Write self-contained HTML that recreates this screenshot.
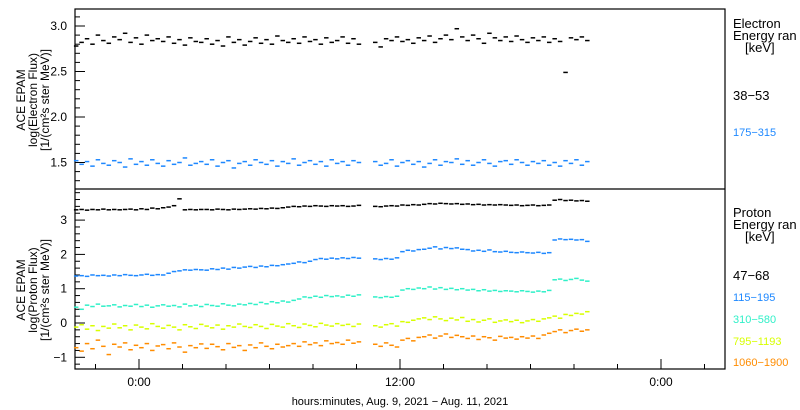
<!DOCTYPE html>
<html><head><meta charset="utf-8"><style>
body{margin:0;background:#fff;}
svg{display:block;font-family:"Liberation Sans",sans-serif;}
</style></head><body>
<svg id="chart" width="800" height="410" viewBox="0 0 800 410" xmlns="http://www.w3.org/2000/svg">
<g id="axes"></g><g id="marks"></g>
</svg>
<script>
const tStart = -2.9;
const tStep = 0.25;
const electronLow = [2.78,2.82,2.86,2.80,2.90,2.84,2.81,2.88, 2.85,2.92,2.82,2.87,2.80,2.90,2.84,2.86, 2.83,2.88,2.81,2.85,2.79,2.87,2.83,2.82, 2.86,2.80,2.84,2.78,2.88,2.82,2.85,2.79, 2.83,2.87,2.81,2.85,2.80,2.89,2.84,2.82, 2.86,2.81,2.88,2.83,2.85,2.80,2.87,2.82, 2.84,2.88,2.81,2.86,2.80,null,null, 2.82,2.77,2.86,2.84,2.88,2.83,2.85,2.81,2.87, 2.84,2.89,2.82,2.86,2.90,2.85,2.97,2.88, 2.84,2.90,2.86,2.81,2.92,2.87,2.84,2.88, 2.83,2.89,2.85,2.82,2.87,2.84,2.88,2.82, 2.86,2.83,2.49,2.87,2.85,2.88,2.84];
const electronHigh = [1.52,1.48,1.51,1.46,1.53,1.49,1.47,1.52, 1.50,1.45,1.54,1.48,1.51,1.47,1.53,1.49, 1.46,1.52,1.48,1.50,1.55,1.47,1.49,1.51, 1.48,1.53,1.46,1.50,1.52,1.44,1.49,1.51, 1.47,1.53,1.50,1.48,1.52,1.46,1.51,1.49, 1.54,1.47,1.50,1.52,1.48,1.51,1.46,1.53, 1.49,1.51,1.47,1.52,1.50,null,null, 1.51,1.47,1.49,1.53,1.46,1.50,1.52,1.48,1.51, 1.45,1.49,1.53,1.47,1.51,1.50,1.54,1.48, 1.52,1.47,1.50,1.53,1.49,1.46,1.51,1.52, 1.48,1.53,1.50,1.47,1.51,1.49,1.52,1.47, 1.50,1.46,1.52,1.49,1.53,1.47,1.51];
const proton1 = [3.30,3.31,3.29,3.31,3.30,3.32,3.30,3.31, 3.30,3.31,3.32,3.30,3.33,3.31,3.35,3.33, 3.36,3.38,3.42,3.62,3.30,3.31,3.30,3.31, 3.31,3.30,3.32,3.31,3.30,3.32,3.31,3.32, 3.33,3.32,3.34,3.33,3.35,3.34,3.36,3.38, 3.40,3.39,3.41,3.40,3.42,3.41,3.40,3.42, 3.41,3.42,3.40,3.41,3.43,null,null, 3.40,3.39,3.41,3.42,3.41,3.44,3.43,3.45,3.44, 3.46,3.48,3.47,3.49,3.48,3.47,3.48,3.46, 3.47,3.45,3.46,3.44,3.45,3.44,3.45,3.44, 3.43,3.44,3.42,3.43,3.44,3.42,3.43,3.44, 3.58,3.60,3.57,3.58,3.56,3.57,3.55];
const proton2 = [1.37,1.38,1.36,1.40,1.38,1.39,1.37,1.40, 1.38,1.41,1.39,1.38,1.40,1.42,1.39,1.41, 1.40,1.45,1.50,1.52,1.55,1.54,1.56,1.55, 1.54,1.58,1.56,1.60,1.57,1.62,1.60,1.63, 1.65,1.62,1.66,1.64,1.68,1.67,1.70,1.72, 1.74,1.78,1.76,1.80,1.85,1.88,1.86,1.89, 1.87,1.90,1.88,1.91,1.89,null,null, 1.87,1.85,1.88,1.86,1.90,2.08,2.12,2.10,2.14, 2.15,2.18,2.22,2.16,2.20,2.17,2.19,2.15, 2.14,2.10,2.12,2.09,2.13,2.08,2.07,2.09, 2.06,2.05,2.07,2.05,2.04,2.06,2.03,2.05, 2.42,2.45,2.43,2.44,2.42,2.43,2.38];
const proton3 = [0.46,0.40,0.52,0.48,0.55,0.49,0.50,0.53, 0.47,0.51,0.49,0.54,0.48,0.52,0.46,0.50, 0.53,0.49,0.51,0.47,0.55,0.50,0.52,0.48, 0.54,0.51,0.49,0.56,0.52,0.50,0.55,0.53, 0.57,0.54,0.60,0.56,0.62,0.59,0.64,0.61, 0.66,0.70,0.76,0.74,0.78,0.75,0.80,0.77, 0.79,0.76,0.81,0.78,0.82,null,null, 0.76,0.74,0.77,0.75,0.78,0.96,1.00,0.98,1.02, 1.00,1.05,0.99,1.03,0.98,1.01,0.97,1.00, 0.96,0.98,0.94,0.97,0.93,0.95,0.92,0.94, 0.93,0.91,0.94,0.92,0.90,0.93,0.91,0.95, 1.26,1.28,1.24,1.27,1.30,1.25,1.22];
const proton4 = [-0.12,-0.05,-0.18,-0.08,-0.22,-0.10,-0.15,-0.03, -0.14,-0.08,-0.20,-0.06,-0.12,-0.17,-0.02,-0.10, -0.15,-0.07,-0.12,-0.20,-0.05,-0.11,-0.16,-0.04, -0.09,-0.14,-0.06,-0.18,-0.08,-0.12,-0.03,-0.10, -0.13,-0.05,-0.10,-0.16,-0.04,-0.09,-0.12,-0.02, -0.08,-0.13,-0.03,-0.07,-0.11,-0.01,-0.06,-0.09, -0.02,-0.07,-0.04,-0.10,-0.03,null,null, -0.08,-0.12,-0.05,-0.02,-0.09,0.04,0.02,0.08,0.12, 0.15,0.10,0.18,0.12,0.07,0.14,0.09,0.16, 0.05,0.10,0.03,0.08,0.12,0.02,0.06,0.09, 0.04,0.08,0.01,0.06,0.10,0.05,0.12,0.15, 0.20,0.14,0.25,0.22,0.28,0.26,0.33];
const proton5 = [-0.72,-0.82,-0.60,-0.75,-0.50,-0.68,-0.92,-0.62, -0.70,-0.58,-0.78,-0.65,-0.72,-0.60,-0.80,-0.67, -0.63,-0.75,-0.58,-0.70,-0.85,-0.66,-0.72,-0.61, -0.74,-0.62,-0.69,-0.78,-0.60,-0.71,-0.66,-0.80, -0.64,-0.72,-0.58,-0.68,-0.75,-0.62,-0.70,-0.66, -0.60,-0.68,-0.55,-0.63,-0.58,-0.66,-0.52,-0.60, -0.57,-0.62,-0.50,-0.59,-0.55,null,null, -0.62,-0.68,-0.58,-0.65,-0.70,-0.50,-0.45,-0.52,-0.42, -0.40,-0.35,-0.44,-0.38,-0.32,-0.42,-0.36,-0.40, -0.45,-0.38,-0.48,-0.40,-0.43,-0.50,-0.39,-0.44, -0.42,-0.47,-0.40,-0.44,-0.38,-0.45,-0.35,-0.30, -0.25,-0.20,-0.28,-0.22,-0.18,-0.24,-0.20];
const topTicks = [1.5, 2.0, 2.5, 3.0];
const topTickLabels = ["1.5", "2.0", "2.5", "3.0"];
const botTicks = [-1, 0, 1, 2, 3];
const botTickLabels = ["\u22121", "0", "1", "2", "3"];
const xTicks = [0, 12, 24];
const xTickLabels = ["0:00", "12:00", "0:00"];

const NS = "http://www.w3.org/2000/svg";
const L = 75, R = 725, T = 9, M = 189, B = 369;
function xs(t){ return 139 + t * 21.75; }
function yTop(v){ return 26 + (3.0 - v) * 91; }
function yBot(v){ return 323 - v * 34.3; }
const axes = document.getElementById('axes');
const marks = document.getElementById('marks');
function mk(tag, attrs, parent){ const e = document.createElementNS(NS, tag); for (const k in attrs) e.setAttribute(k, attrs[k]); parent.appendChild(e); return e; }

const fr = mk('rect', {x:L, y:T, width:R-L, height:B-T, fill:'none', stroke:'#000', 'stroke-width':1.2}, axes);


const sep = mk('line', {x1:L, x2:R, y1:M, y2:M, stroke:'#000', 'stroke-width':1.2}, axes);



for (let v = 1.3; v <= 3.15; v += 0.1) {
  const y = yTop(v); const maj = Math.abs(v*2 - Math.round(v*2)) < 0.01;
  const tk = mk('line', {x1:L, x2:L+(maj?10:5), y1:y, y2:y, stroke:'#000'}, axes);
  
  
}
topTicks.forEach((v, i) => {
  const tx = mk('text', {x:L-8, y:yTop(v)+4, 'text-anchor':'end', 'font-size':12}, axes);
  tx.textContent = topTickLabels[i];
  
  
});
for (let v = -1.2; v <= 3.85; v += 0.2) {
  const y = yBot(v); const maj = Math.abs(v - Math.round(v)) < 0.01;
  const tk = mk('line', {x1:L, x2:L+(maj?10:5), y1:y, y2:y, stroke:'#000'}, axes);
  
  
}
botTicks.forEach((v, i) => {
  const tx = mk('text', {x:L-8, y:yBot(v)+4, 'text-anchor':'end', 'font-size':12}, axes);
  tx.textContent = botTickLabels[i];
  
  
});
for (let t = -2; t <= 26; t += 2) {
  const x = xs(t); const maj = t % 12 === 0;
  const tk = mk('line', {x1:x, x2:x, y1:B, y2:B-(maj?10:5), stroke:'#000'}, axes);
  
  
}
xTicks.forEach((t, i) => {
  const tx = mk('text', {x:xs(t), y:386, 'text-anchor':'middle', 'font-size':12}, axes);
  tx.textContent = xTickLabels[i];
  
  
});

function series(vals, yf, color, name){
  const g = mk('g', {fill:color}, marks);
  
  
  vals.forEach((v, i) => {
    if (v === null) return;
    const x = xs(tStart + i * tStep);
    const r = mk('rect', {x:x-2, y:yf(v)-0.75, width:4.5, height:1.5}, g);
    
    
  });
}
series(electronLow, yTop, '#000', 'electron-38-53-series');
series(electronHigh, yTop, '#1e88ff', 'electron-175-315-series');
series(proton1, yBot, '#000', 'proton-47-68-series');
series(proton2, yBot, '#1e88ff', 'proton-115-195-series');
series(proton3, yBot, '#30f0c8', 'proton-310-580-series');
series(proton4, yBot, '#d8ff00', 'proton-795-1193-series');
series(proton5, yBot, '#ff8c00', 'proton-1060-1900-series');
</script>
<svg style="position:absolute;left:0;top:0" width="800" height="410" font-family="Liberation Sans, sans-serif">
  <g transform="translate(38,100) rotate(-90)" font-size="12" text-anchor="middle">
    <text x="0" y="-13">ACE EPAM</text>
    <text x="0" y="-1">log(Electron Flux)</text>
    <text x="0" y="11">[1/(cm²s ster MeV)]</text>
  </g>
  <g transform="translate(38,290) rotate(-90)" font-size="12" text-anchor="middle">
    <text x="0" y="-13">ACE EPAM</text>
    <text x="0" y="-1">log(Proton Flux)</text>
    <text x="0" y="11">[1/(cm²s ster MeV)]</text>
  </g>
  <g>
    <text x="733" y="28" font-size="13">Electron</text>
    <text x="733" y="40" font-size="13">Energy ran</text>
    <text x="745" y="52" font-size="13">[keV]</text>
    <text x="733" y="100" font-size="13">38−53</text>
    <text x="733" y="136" font-size="11" fill="#1e88ff">175−315</text>
  </g>
  <g>
    <text x="733" y="217" font-size="13">Proton</text>
    <text x="733" y="229" font-size="13">Energy ran</text>
    <text x="745" y="241" font-size="13">[keV]</text>
    <text x="733" y="280" font-size="13">47−68</text>
    <text x="733" y="301" font-size="11" fill="#1e88ff">115−195</text>
    <text x="733" y="323" font-size="11" fill="#30f0c8">310−580</text>
    <text x="733" y="345" font-size="11" fill="#d8ff00">795−1193</text>
    <text x="733" y="366" font-size="11" fill="#ff8c00">1060−1900</text>
  </g>
  <text x="400" y="405" font-size="11" text-anchor="middle">hours:minutes, Aug.  9, 2021 − Aug. 11, 2021</text>
</svg>
</body></html>
